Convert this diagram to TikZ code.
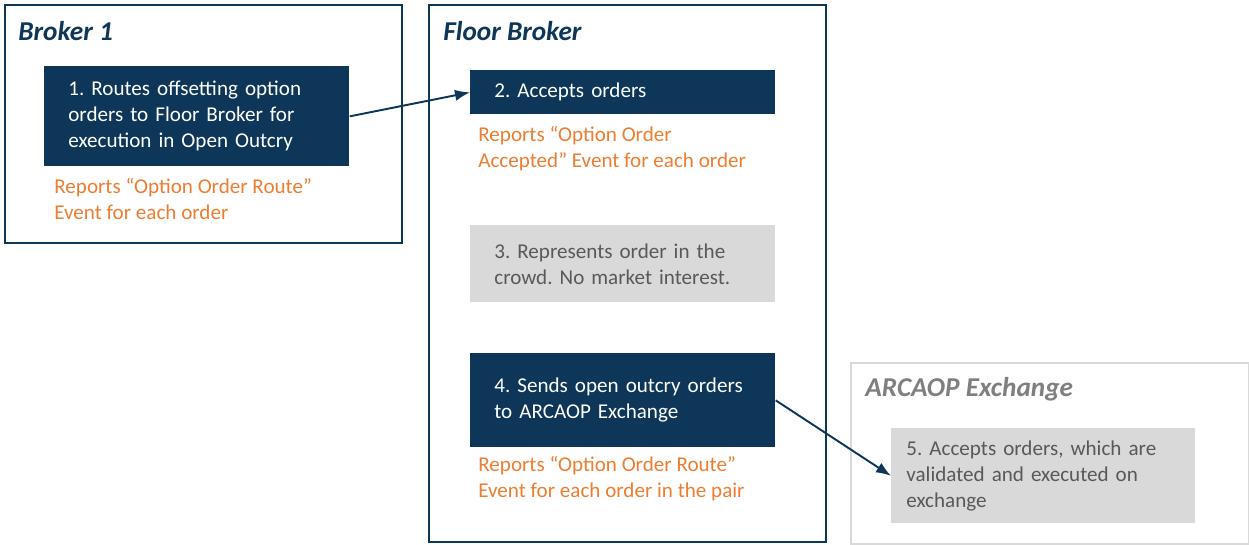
\documentclass[tikz,border=0pt]{standalone}
\usepackage{fontspec}
\setmainfont{Carlito}
\usepackage{tikz}
\usepackage{xcolor}
\usetikzlibrary{arrows.meta,positioning}
\definecolor{routenavy}{HTML}{0E3659}
\definecolor{routeorange}{HTML}{ED7D31}
\definecolor{routegray}{HTML}{D9D9D9}
\definecolor{routetext}{HTML}{595959}
\definecolor{routetitle}{HTML}{7F7F7F}
\frenchspacing

\tikzset{
  frame/.style={draw=routenavy, line width=1.1pt, anchor=north west, inner sep=0pt},
  framegray/.style={draw=routegray, line width=1.1pt, anchor=north west, inner sep=0pt},
  frametitle/.style={anchor=west, inner sep=0pt, text=routenavy, font=\fontsize{15.5}{18}\selectfont\bfseries\itshape},
  stepnavy/.style={fill=routenavy, text=white, anchor=north west, minimum width=6.1cm, text width=5.14cm, inner xsep=0.48cm, align=left, font=\fontsize{12}{14.8}\selectfont},
  stepgray/.style={stepnavy, fill=routegray, text=routetext},
  report/.style={anchor=west, inner sep=0pt, align=left, text=routeorange, font=\fontsize{12}{14.8}\selectfont},
  route/.style={-{Latex[length=3mm]}, line width=1.1pt, draw=routenavy}
}

\begin{document}
\begin{tikzpicture}
        \useasboundingbox (0,0) rectangle (24.98,-10.88);
        % outer frames
        \node[frame, minimum width=7.94cm, minimum height=4.76cm] (broker) at (0.08,-0.08) {};
        \node[frametitle] (brokertitle) at (0.36,-0.62) {Broker 1};
        \node[frame, minimum width=7.94cm, minimum height=10.74cm] (floor) at (8.56,-0.08) {};
        \node[frametitle] (floortitle) at (8.86,-0.62) {Floor Broker};
        \node[framegray, minimum width=7.96cm, minimum height=3.62cm] (arca) at (17.0,-7.24) {};
        \node[frametitle, text=routetitle] (arcatitle) at (17.3,-7.78) {ARCAOP Exchange};
        % steps
        \node[stepnavy, minimum height=2.0cm] (route) at (0.88,-1.32) {1. Routes offsetting option\\orders to Floor Broker for\\execution in Open Outcry};
        \node[report] (routerep) at (1.08,-3.97) {Reports “Option Order Route”\\Event for each order};
        \node[stepnavy, minimum height=0.88cm] (accept) at (9.4,-1.4) {2. Accepts orders};
        \node[report] (acceptrep) at (9.56,-2.98) {Reports “Option Order\\Accepted” Event for each order};
        \node[stepgray, minimum height=1.54cm] (crowd) at (9.4,-4.5) {3. Represents order in the\\crowd. No market interest.};
        \node[stepnavy, minimum height=1.88cm] (sends) at (9.4,-7.06) {4. Sends open outcry orders\\to ARCAOP Exchange};
        \node[report] (sendsrep) at (9.56,-9.57) {Reports “Option Order Route”\\Event for each order in the pair};
        \node[stepgray, minimum width=6.08cm, minimum height=1.9cm, inner xsep=0.3cm, text width=5.48cm] (exec) at (17.82,-8.56) {5. Accepts orders, which are\\validated and executed on\\exchange};
        % connectors
        \draw[route] (route.east) -- (accept.west);
        \draw[route] (sends.east) -- (exec.west);
      \end{tikzpicture}
\end{document}
